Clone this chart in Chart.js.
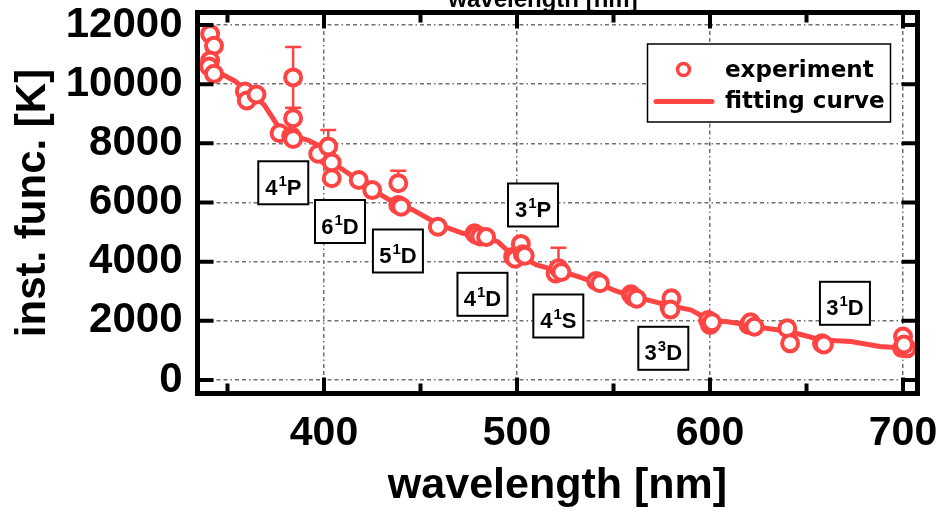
<!DOCTYPE html>
<html>
<head>
<meta charset="utf-8">
<script src="https://cdn.jsdelivr.net/npm/chart.js@4.4.0/dist/chart.umd.min.js"></script>
<style>
  html, body { margin: 0; padding: 0; background: #ffffff; }
  #wrap { width: 944px; height: 518px; position: relative; }
</style>
</head>
<body>
<div id="wrap"><canvas id="c" width="944" height="518"></canvas></div>
<script>
// Measured instrument function (wavelength in nm, value in K)
const expWavelength = [341, 343, 341, 340.5, 343, 359, 360, 365, 384, 384, 377, 383, 384, 397, 402.2, 404, 404,
  418, 425, 438.5, 438.5, 440, 459, 478, 479, 481, 484, 498, 499, 502, 503, 504, 520, 521.5, 523,
  541, 543, 559, 560, 562, 579, 580, 579.5, 599, 600, 601, 620, 621, 623, 640, 641.5, 658, 659,
  700, 699.5, 702, 700.5];
const expValue = [11700, 11300, 10800, 10600, 10350, 9750, 9450, 9650, 10230, 8850, 8340, 8250, 8150, 7650, 7890, 7350, 6820,
  6760, 6420, 6650, 5920, 5860, 5180, 4960, 4900, 4850, 4830, 4170, 4100, 4600, 4250, 4200, 3600, 3780, 3650,
  3350, 3270, 2900, 2820, 2750, 2480, 2760, 2380, 2030, 1860, 1950, 1860, 1950, 1800, 1750, 1240, 1240, 1200,
  1470, 1080, 1070, 1200];

// Error bars on selected measurements (upper and lower extent)
const errWavelength = [384, 402.2, 438.5, 521.5];
const errCenter = [10230, 7890, 6650, 3780];
const errUp = [1030, 565, 420, 690];
const errDown = [1030, 565, 0, 0];

// Fitted instrument function
const fitWavelength = [341, 344, 354, 360, 365, 369, 375, 378, 384, 392, 398, 404, 410, 418, 425, 431, 439, 446,
  460, 472, 480, 490, 498, 503, 510, 521, 529, 542, 550, 560, 571, 580, 590, 600, 609, 621, 629, 640,
  648, 658, 673, 688, 700];
const fitValue = [10700, 10450, 10100, 9750, 9550, 9300, 8700, 8400, 8250, 8100, 7900, 7350, 7100, 6750, 6450, 6200, 5900, 5750,
  5240, 4960, 4850, 4680, 4200, 4150, 3890, 3700, 3550, 3270, 3040, 2830, 2650, 2500, 2370, 2020, 1970, 1850, 1750, 1650,
  1520, 1350, 1300, 1130, 1080];

// Axis ticks
const xTicks = [350, 400, 450, 500, 550, 600, 650, 700];
const xLabelTicks = [400, 500, 600, 700];
const yTicks = [0, 2000, 4000, 6000, 8000, 10000, 12000];

// Spectral line labels: base, superscript, term, and placement (nm, K)
const levelBase = ['4', '6', '5', '3', '4', '4', '3', '3'];
const levelSup = ['1', '1', '1', '1', '1', '1', '3', '1'];
const levelTerm = ['P', 'D', 'D', 'P', 'D', 'S', 'D', 'D'];
const levelWavelength = [378.9, 408.3, 438.3, 508.3, 482.1, 521.4, 575.8, 669.9];
const levelValue = [6667, 5358, 4361, 5916, 2897, 2164, 1072, 2593];

const xMin = 334.46, xMax = 707.5;
const yMin = -456, yMax = 12423;

const RED = '#ff4444';
const GRID = '#707070';
const FONT = "'Liberation Sans', Arial, sans-serif";
const gridDash = [4, 3, 4, 3, 1.5, 3];

const framePlugin = {
  id: 'frame',
  beforeDatasetsDraw(chart) {
    const { ctx, scales: { x, y } } = chart;
    ctx.save();
    ctx.strokeStyle = RED;
    ctx.lineWidth = 2.5;
    for (let i = 0; i < errWavelength.length; i++) {
      const px = x.getPixelForValue(errWavelength[i]);
      const top = y.getPixelForValue(errCenter[i] + errUp[i]);
      const mid = y.getPixelForValue(errCenter[i]);
      const bot = y.getPixelForValue(errCenter[i] - errDown[i]);
      ctx.beginPath();
      ctx.moveTo(px, top); ctx.lineTo(px, bot);
      ctx.moveTo(px - 8, top); ctx.lineTo(px + 8, top);
      if (bot !== mid) { ctx.moveTo(px - 8, bot); ctx.lineTo(px + 8, bot); }
      ctx.stroke();
    }
    ctx.restore();
  },
  afterDatasetsDraw(chart) {
    const { ctx, chartArea: a, scales: { x, y } } = chart;
    ctx.save();

    // secondary axis title, cut off by the canvas edge
    ctx.fillStyle = '#000';
    ctx.font = 'bold 24px ' + FONT;
    ctx.textAlign = 'center';
    ctx.textBaseline = 'alphabetic';
    ctx.fillText('wavelength [nm]', 543, 7);

    // frame
    ctx.strokeStyle = '#000';
    ctx.lineWidth = 5;
    ctx.strokeRect(a.left, a.top, a.right - a.left, a.bottom - a.top);

    // inward tick marks
    ctx.lineWidth = 4;
    ctx.beginPath();
    for (const v of xTicks) {
      const px = x.getPixelForValue(v);
      const len = xLabelTicks.includes(v) ? 16 : 10;
      ctx.moveTo(px, a.bottom); ctx.lineTo(px, a.bottom - len);
      ctx.moveTo(px, a.top); ctx.lineTo(px, a.top + len);
    }
    for (const v of yTicks) {
      const py = y.getPixelForValue(v);
      ctx.moveTo(a.left, py); ctx.lineTo(a.left + 16, py);
      ctx.moveTo(a.right, py); ctx.lineTo(a.right - 16, py);
    }
    ctx.stroke();

    // level labels
    for (let i = 0; i < levelBase.length; i++) {
      const cx = x.getPixelForValue(levelWavelength[i]);
      const cy = y.getPixelForValue(levelValue[i]);
      const w = 50, h = 43;
      ctx.fillStyle = '#fff';
      ctx.fillRect(cx - w / 2, cy - h / 2, w, h);
      ctx.lineWidth = 2;
      ctx.strokeStyle = '#000';
      ctx.strokeRect(cx - w / 2, cy - h / 2, w, h);
      const mainFont = 'bold 22px ' + FONT, supFont = 'bold 15px ' + FONT;
      ctx.font = mainFont;
      const wb = ctx.measureText(levelBase[i]).width;
      const wt = ctx.measureText(levelTerm[i]).width;
      ctx.font = supFont;
      const ws = ctx.measureText(levelSup[i]).width;
      const total = wb + 1 + ws + wt;
      let tx = cx - total / 2;
      ctx.fillStyle = '#000';
      ctx.textAlign = 'left';
      ctx.textBaseline = 'alphabetic';
      ctx.font = mainFont;
      ctx.fillText(levelBase[i], tx, cy + 12);
      tx += wb + 1;
      ctx.font = supFont;
      ctx.fillText(levelSup[i], tx, cy + 3);
      tx += ws;
      ctx.font = mainFont;
      ctx.fillText(levelTerm[i], tx, cy + 12);
    }

    // legend
    const lx = 647.5, ly = 44, lw = 243, lh = 78;
    ctx.fillStyle = '#fff';
    ctx.fillRect(lx, ly, lw, lh);
    ctx.lineWidth = 1.5;
    ctx.strokeStyle = '#000';
    ctx.strokeRect(lx, ly, lw, lh);
    ctx.strokeStyle = RED;
    ctx.lineWidth = 3.5;
    ctx.beginPath();
    ctx.arc(683.5, 69.5, 6, 0, Math.PI * 2);
    ctx.stroke();
    ctx.lineWidth = 5;
    ctx.lineCap = 'round';
    ctx.beginPath();
    ctx.moveTo(656, 101.5); ctx.lineTo(712, 101.5);
    ctx.stroke();
    ctx.fillStyle = '#000';
    ctx.font = "bold 23px 'DejaVu Sans', sans-serif";
    ctx.textAlign = 'left';
    ctx.fillText('experiment', 725, 77);
    ctx.fillText('fitting curve', 725, 108);

    ctx.restore();
  }
};

new Chart(document.getElementById('c'), {
  type: 'scatter',
  data: {
    datasets: [
      {
        label: 'experiment',
        data: expWavelength.map((w, i) => ({ x: w, y: expValue[i] })),
        showLine: false,
        pointStyle: 'circle',
        pointRadius: 8,
        pointBorderWidth: 4,
        pointBorderColor: RED,
        pointBackgroundColor: '#ffffff',
        order: 0
      },
      {
        label: 'fitting curve',
        data: fitWavelength.map((w, i) => ({ x: w, y: fitValue[i] })),
        showLine: true,
        borderColor: RED,
        borderWidth: 5,
        borderJoinStyle: 'round',
        borderCapStyle: 'round',
        pointRadius: 0,
        tension: 0,
        order: 1
      }
    ]
  },
  options: {
    responsive: false,
    animation: false,
    devicePixelRatio: 1,
    layout: { padding: { top: 12.5, right: 26.5, left: 0, bottom: 0 } },
    plugins: { legend: { display: false }, tooltip: { enabled: false } },
    scales: {
      x: {
        type: 'linear',
        min: xMin, max: xMax,
        afterBuildTicks(s) { s.ticks = xTicks.map(v => ({ value: v })); },
        afterFit(s) { s.height = 124.5; s.paddingLeft = 0; s.paddingRight = 0; },
        border: { display: false, dash: gridDash },
        grid: {
          drawTicks: false,
          lineWidth: 1.5,
          color: c => (c.tick && xLabelTicks.includes(c.tick.value)) ? GRID : 'rgba(0,0,0,0)'
        },
        ticks: {
          autoSkip: false,
          maxRotation: 0,
          padding: 16,
          color: '#000',
          font: { family: FONT, size: 41, weight: 'bold' },
          callback: v => (xLabelTicks.includes(v) ? String(v) : '')
        },
        title: {
          display: true,
          text: 'wavelength [nm]',
          color: '#000',
          font: { family: FONT, size: 43, weight: 'bold' },
          padding: { top: 0, bottom: 6 }
        }
      },
      y: {
        type: 'linear',
        min: yMin, max: yMax,
        afterBuildTicks(s) { s.ticks = yTicks.map(v => ({ value: v })); },
        afterFit(s) { s.width = 197.5; s.paddingTop = 0; s.paddingBottom = 0; },
        border: { display: false, dash: gridDash },
        grid: {
          drawTicks: false,
          lineWidth: 1.5,
          color: GRID
        },
        ticks: {
          autoSkip: false,
          padding: 15,
          color: '#000',
          font: { family: FONT, size: 42, weight: 'bold' },
          callback: v => String(v)
        },
        title: {
          display: true,
          text: 'inst. func. [K]',
          color: '#000',
          font: { family: FONT, size: 42, weight: 'bold' },
          padding: { top: 8, bottom: 0 }
        }
      }
    }
  },
  plugins: [framePlugin]
});
</script>
</body>
</html>
